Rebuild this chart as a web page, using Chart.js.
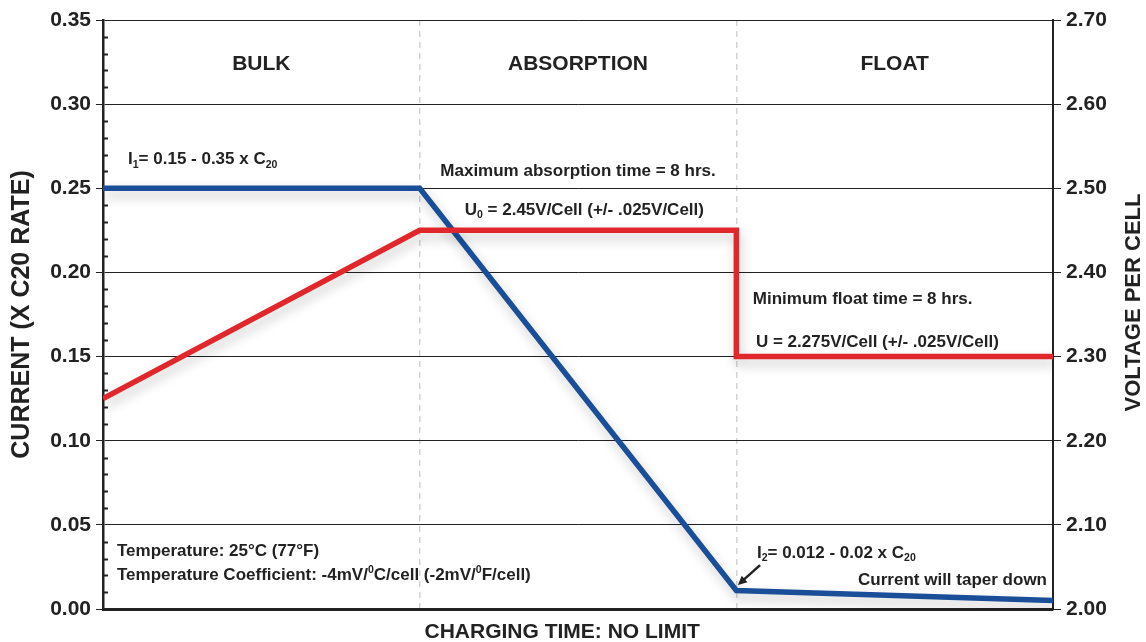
<!DOCTYPE html>
<html lang="en">
<head>
<meta charset="UTF-8">
<title>Charging profile</title>
<script src="https://cdn.jsdelivr.net/npm/chart.js"></script>
<style>
  html, body { margin: 0; padding: 0; background: #fff; }
  canvas { display: block; }
</style>
</head>
<body>
<canvas id="graph" width="1146" height="642"></canvas>
<script>
// charging time is in "phase units": 0-1 bulk, 1-2 absorption, 2-3 float
const currentTime = [0, 1, 2, 3];
const currentValues = [0.25, 0.25, 0.011, 0.005];
const voltageTime = [0, 1, 2, 2, 3];
const voltageValues = [2.25, 2.45, 2.45, 2.30, 2.30];
const phaseNames = ['BULK', 'ABSORPTION', 'FLOAT'];
const phaseBounds = [1, 2];
const currentTicks = [0, 0.35, 0.05];
const voltageTicks = [2.0, 2.7, 0.1];

const FONT = '"Liberation Sans", Arial, Helvetica, sans-serif';
const INK = '#222';
const BLUE = '#1b4e98';
const RED = '#e0282c';

// notes: x in phase units, y on the current axis
const notes = [
  { x: 0.079, y: 0.267, align: 'left', parts: [['I'], ['1', 'sub'], ['= 0.15 - 0.35 x C'], ['20', 'sub']] },
  { x: 1.5, y: 0.2598, align: 'center', parts: [['Maximum absorption time = 8 hrs.']] },
  { x: 1.52, y: 0.2371, align: 'center', parts: [['U'], ['0', 'sub'], [' = 2.45V/Cell (+/- .025V/Cell)']] },
  { x: 2.052, y: 0.1842, align: 'left', parts: [['Minimum float time = 8 hrs.']] },
  { x: 2.062, y: 0.1587, align: 'left', parts: [['U = 2.275V/Cell (+/- .025V/Cell)']] },
  { x: 0.044, y: 0.0341, align: 'left', parts: [['Temperature: 25°C (77°F)']] },
  { x: 0.044, y: 0.0202, align: 'left', parts: [['Temperature Coefficient: -4mV/'], ['0', 'sup'], ['C/cell (-2mV/'], ['0', 'sup'], ['F/cell)']] },
  { x: 2.065, y: 0.0333, align: 'left', parts: [['I'], ['2', 'sub'], ['= 0.012 - 0.02 x C'], ['20', 'sub']] },
  { x: 2.981, y: 0.0172, align: 'right', parts: [['Current will taper down']] }
];
const arrow = { from: [2.075, 0.0261], to: [2.005, 0.0143] };

function drawRich(ctx, x, y, parts, size, align) {
  const widths = parts.map(p => {
    ctx.font = 'bold ' + (p[1] ? size * 0.62 : size) + 'px ' + FONT;
    return ctx.measureText(p[0]).width;
  });
  const total = widths.reduce((a, b) => a + b, 0);
  let cx = align === 'left' ? x : align === 'right' ? x - total : x - total / 2;
  ctx.textAlign = 'left';
  ctx.textBaseline = 'middle';
  parts.forEach((p, i) => {
    let dy = 0;
    if (p[1] === 'sub') dy = size * 0.3;
    if (p[1] === 'sup') dy = -size * 0.3;
    ctx.font = 'bold ' + (p[1] ? size * 0.62 : size) + 'px ' + FONT;
    ctx.fillText(p[0], cx, y + dy);
    cx += widths[i];
  });
}

const shadowPlugin = {
  id: 'lineShadow',
  beforeDatasetDraw(chart) {
    const ctx = chart.ctx;
    ctx.save();
    ctx.shadowColor = 'rgba(0,0,0,0.22)';
    ctx.shadowBlur = 12;
    ctx.shadowOffsetX = 2;
    ctx.shadowOffsetY = 6;
  },
  afterDatasetDraw(chart) {
    chart.ctx.restore();
  }
};

const decorPlugin = {
  id: 'decor',
  afterDraw(chart) {
    const ctx = chart.ctx;
    const xs = chart.scales.x, ys = chart.scales.y;
    const area = chart.chartArea;
    ctx.save();
    ctx.fillStyle = INK;

    // minor ticks inside the left axis
    ctx.strokeStyle = INK;
    ctx.lineWidth = 2;
    for (let i = 1; i < 35; i++) {
      if (i % 5 === 0) continue;
      const py = Math.round(ys.getPixelForValue(i / 100)) + 0.5;
      ctx.beginPath();
      ctx.moveTo(area.left, py);
      ctx.lineTo(area.left + 5, py);
      ctx.stroke();
    }

    // phase names
    phaseNames.forEach((name, i) => {
      drawRich(ctx, xs.getPixelForValue(i + 0.5), ys.getPixelForValue(0.324), [[name]], 21, 'center');
    });

    notes.forEach(n => {
      drawRich(ctx, xs.getPixelForValue(n.x), ys.getPixelForValue(n.y), n.parts, 17, n.align);
    });

    // arrow to the float knee
    const x1 = xs.getPixelForValue(arrow.from[0]), y1 = ys.getPixelForValue(arrow.from[1]);
    const x2 = xs.getPixelForValue(arrow.to[0]), y2 = ys.getPixelForValue(arrow.to[1]);
    const ang = Math.atan2(y2 - y1, x2 - x1);
    ctx.lineWidth = 2.5;
    ctx.beginPath();
    ctx.moveTo(x1, y1);
    ctx.lineTo(x2 - 6 * Math.cos(ang), y2 - 6 * Math.sin(ang));
    ctx.stroke();
    ctx.beginPath();
    ctx.moveTo(x2, y2);
    ctx.lineTo(x2 - 10 * Math.cos(ang - 0.45), y2 - 10 * Math.sin(ang - 0.45));
    ctx.lineTo(x2 - 10 * Math.cos(ang + 0.45), y2 - 10 * Math.sin(ang + 0.45));
    ctx.closePath();
    ctx.fill();

    // x axis title
    ctx.font = 'bold 21px ' + FONT;
    ctx.textAlign = 'center';
    ctx.textBaseline = 'middle';
    ctx.fillText('CHARGING TIME: NO LIMIT', xs.getPixelForValue(1.45), area.bottom + 23);

    // right axis title, reading bottom to top
    ctx.translate(chart.width - 12, (area.top + area.bottom) / 2 - 12);
    ctx.rotate(-Math.PI / 2);
    ctx.font = 'bold 22px ' + FONT;
    ctx.fillText('VOLTAGE PER CELL', 0, 0);
    ctx.restore();
  }
};

const tickFont = { family: FONT, size: 21, weight: 'bold' };

new Chart(document.getElementById('graph').getContext('2d'), {
  type: 'line',
  data: {
    datasets: [
      {
        label: 'Voltage',
        data: voltageTime.map((t, i) => ({ x: t, y: voltageValues[i] })),
        yAxisID: 'y2',
        borderColor: RED,
        borderWidth: 5.5,
        borderJoinStyle: 'miter',
        pointRadius: 0,
        tension: 0
      },
      {
        label: 'Current',
        data: currentTime.map((t, i) => ({ x: t, y: currentValues[i] })),
        yAxisID: 'y',
        borderColor: BLUE,
        borderWidth: 5.5,
        borderJoinStyle: 'miter',
        pointRadius: 0,
        tension: 0
      }
    ]
  },
  options: {
    responsive: false,
    animation: false,
    layout: { padding: { top: 20, right: 0, bottom: 0, left: 0 } },
    plugins: {
      legend: { display: false },
      tooltip: { enabled: false }
    },
    scales: {
      x: {
        type: 'linear',
        min: 0,
        max: 3,
        afterFit(s) { s.height = 33; },
        ticks: { display: false, stepSize: 1 },
        grid: {
          color: c => (c.tick && phaseBounds.includes(c.tick.value)) ? '#d4d4d4' : 'rgba(0,0,0,0)',
          lineWidth: 1.5,
          drawTicks: false
        },
        border: { color: INK, width: 3, dash: [6, 5] }
      },
      y: {
        position: 'left',
        min: currentTicks[0],
        max: currentTicks[1],
        afterFit(s) { s.width = 103; },
        ticks: {
          stepSize: currentTicks[2],
          color: INK,
          font: tickFont,
          padding: 5,
          callback: v => v.toFixed(2)
        },
        grid: { color: INK, lineWidth: 1, tickLength: 7 },
        border: { color: INK, width: 2.5 },
        title: {
          display: true,
          text: 'CURRENT (X C20 RATE)',
          color: INK,
          font: { family: FONT, size: 25, weight: 'bold' },
          padding: { top: 7, bottom: 0 }
        }
      },
      y2: {
        position: 'right',
        min: voltageTicks[0],
        max: voltageTicks[1],
        afterFit(s) { s.width = 93; },
        ticks: {
          stepSize: voltageTicks[2],
          color: INK,
          font: tickFont,
          padding: 5,
          callback: v => v.toFixed(2)
        },
        grid: { drawOnChartArea: false, color: INK, lineWidth: 1, tickLength: 8 },
        border: { color: INK, width: 2 }
      }
    }
  },
  plugins: [shadowPlugin, decorPlugin]
});
</script>
</body>
</html>
